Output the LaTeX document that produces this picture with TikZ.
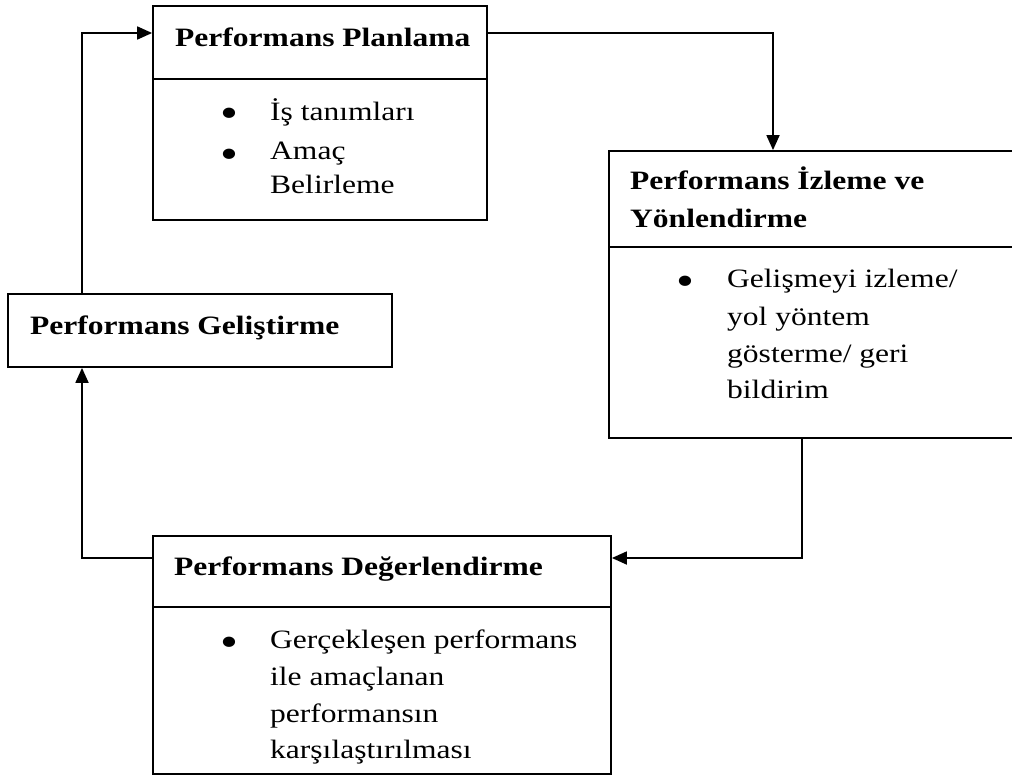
\documentclass[tikz,border=0pt]{standalone}
\usepackage{fontspec}
\setmainfont{Liberation Serif}[FakeStretch=1.19]
\usetikzlibrary{arrows.meta}
\tikzset{
  x=1pt,y=-1pt,
  box/.style={draw,line width=1.8pt,rectangle,inner sep=0pt},
  divline/.style={line width=1.8pt},
  conn/.style={line width=1.8pt,-{Triangle[length=15pt,width=13pt]}},
  ttl/.style={anchor=base west,inner sep=0pt,font=\fontsize{26.5}{37}\selectfont\bfseries},
  txt/.style={anchor=base west,inner sep=0pt,font=\fontsize{26.5}{37}\selectfont},
  bul/.style={anchor=base west,inner sep=0pt,font=\fontsize{43}{43}\selectfont},
}
\begin{document}
\begin{tikzpicture}
\useasboundingbox (0,0) rectangle (1012,776);
% boxes
\node[box,minimum width=334pt,minimum height=214pt] (plan) at (320,113) {};
\node[box,minimum width=406pt,minimum height=287pt] (mon) at (812,294.5) {};
\node[box,minimum width=384pt,minimum height=73pt] (dev) at (200,330.5) {};
\node[box,minimum width=458pt,minimum height=238pt] (eval) at (382,655) {};
% dividers
\draw[divline] (153,79) -- (487,79);
\draw[divline] (609,247) -- (1015,247);
\draw[divline] (153,607) -- (611,607);
% titles
\node[ttl] (t1) at (175,47) {Performans Planlama};
\node[ttl] (t2a) at (630,189) {Performans İzleme ve};
\node[ttl] (t2b) at (630,227) {Yönlendirme};
\node[ttl] (t3) at (30,334.5) {Performans Geliştirme};
\node[ttl] (t4) at (174,575.5) {Performans Değerlendirme};
% box 1 body
\node[bul] (b1a) at (220,127) {•};
\node[txt] (l1a) at (270,120) {İş tanımları};
\node[bul] (b1b) at (220,168) {•};
\node[txt] (l1b) at (270,159) {Amaç};
\node[txt] (l1c) at (270,193) {Belirleme};
% box 2 body
\node[bul] (b2a) at (676,295.5) {•};
\node[txt] (l2a) at (727,287) {Gelişmeyi izleme/};
\node[txt] (l2b) at (727,325) {yol yöntem};
\node[txt] (l2c) at (727,362) {gösterme/ geri};
\node[txt] (l2d) at (727,398) {bildirim};
% box 4 body
\node[bul] (b4a) at (220,656) {•};
\node[txt] (l4a) at (270,648) {Gerçekleşen performans};
\node[txt] (l4b) at (270,685) {ile amaçlanan};
\node[txt] (l4c) at (270,722) {performansın};
\node[txt] (l4d) at (270,758) {karşılaştırılması};
% connectors
\coordinate (c1) at (773,33);
\coordinate (c2) at (802,558);
\coordinate (c3) at (82,558);
\coordinate (c4) at (82,33);
\draw[conn] (plan.east |- c1) -| (c1 |- mon.north);
\draw[conn] (mon.south -| c2) |- (eval.east |- c2);
\draw[conn] (eval.west |- c3) -| (c3 |- dev.south);
\draw[conn] (dev.north -| c4) |- (plan.west |- c4);
\end{tikzpicture}
\end{document}
